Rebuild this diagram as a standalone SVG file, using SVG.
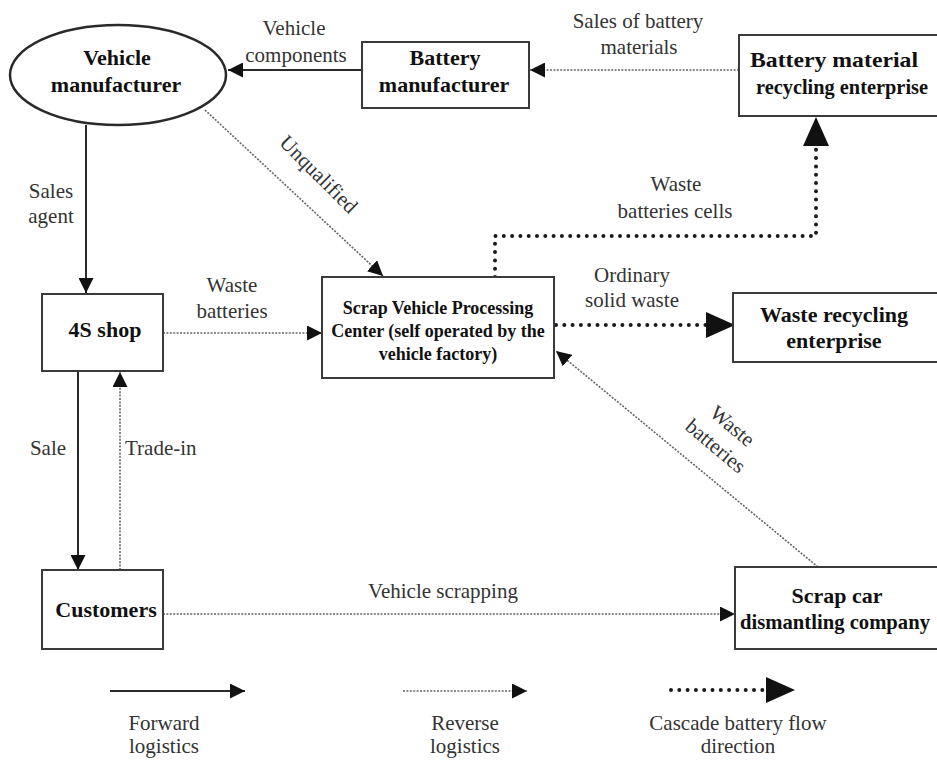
<svg xmlns="http://www.w3.org/2000/svg" width="937" height="762" viewBox="0 0 937 762">
  <style>
    .box { fill: #fff; stroke: #3a3a3a; stroke-width: 2; }
    .node { font-family: "Liberation Serif", "Times New Roman", serif; font-weight: bold; font-size: 22px; fill: #111; }
    .node-sm { font-family: "Liberation Serif", "Times New Roman", serif; font-weight: bold; font-size: 18px; fill: #111; }
    .lbl { font-family: "Liberation Serif", "Times New Roman", serif; font-size: 21px; fill: #333; }
    .fwd { fill: none; stroke: #2a2a2a; stroke-width: 2; }
    .rev { fill: none; stroke: #666; stroke-width: 1.6; stroke-dasharray: 2 1.4; }
    .cas { fill: none; stroke: #1a1a1a; stroke-width: 4; stroke-dasharray: 0 8.3; stroke-linecap: round; }
  </style>
  <defs>
    <marker id="tri" markerUnits="userSpaceOnUse" markerWidth="16" markerHeight="15" refX="15" refY="7.5" orient="auto">
      <path d="M0,0 L15,7.5 L0,15 z" fill="#111"/>
    </marker>
    <marker id="triBig" markerUnits="userSpaceOnUse" markerWidth="30" markerHeight="26" refX="29" refY="13" orient="auto">
      <path d="M0,0 L29,13 L0,26 z" fill="#111"/>
    </marker>
  </defs>

  <rect width="937" height="762" fill="#fff"/>

  <!-- connectors -->
  <g id="connectors">
    <line class="fwd" x1="362" y1="70" x2="228" y2="70" marker-end="url(#tri)"/>
    <line class="rev" x1="739" y1="70" x2="530" y2="70" marker-end="url(#tri)"/>
    <line class="fwd" x1="86" y1="125" x2="86" y2="293" marker-end="url(#tri)"/>
    <line class="rev" x1="205" y1="110" x2="383" y2="276" marker-end="url(#tri)"/>
    <line class="rev" x1="163" y1="333" x2="322" y2="333" marker-end="url(#tri)"/>
    <line class="fwd" x1="78" y1="371" x2="78" y2="570" marker-end="url(#tri)"/>
    <line class="rev" x1="120" y1="570" x2="120" y2="372" marker-end="url(#tri)"/>
    <line class="rev" x1="163" y1="614" x2="735" y2="614" marker-end="url(#tri)"/>
    <line class="rev" x1="818" y1="567" x2="556" y2="351" marker-end="url(#tri)"/>
    <path class="cas" d="M495,277 L495,236 L816,236 L816,140"/>
    <path d="M816,140 L816,117" fill="none" stroke="none" marker-end="url(#triBig)"/>
    <line class="cas" x1="556" y1="325" x2="712" y2="325"/>
    <path d="M712,325 L735,325" fill="none" stroke="none" marker-end="url(#triBig)"/>
  </g>

  <!-- nodes -->
  <g id="vehicle-manufacturer">
    <ellipse cx="118" cy="75" rx="108" ry="50" fill="#fff" stroke="#2a2a2a" stroke-width="2.5"/>
    <text class="node" x="117" y="65" text-anchor="middle">Vehicle</text>
    <text class="node" x="116" y="92" text-anchor="middle">manufacturer</text>
  </g>

  <g id="battery-manufacturer">
    <rect class="box" x="362" y="42" width="167" height="66"/>
    <text class="node" x="445" y="65" text-anchor="middle">Battery</text>
    <text class="node" x="444" y="92" text-anchor="middle">manufacturer</text>
  </g>

  <g id="battery-material-recycling">
    <rect class="box" x="739" y="35" width="210" height="81"/>
    <text class="node" x="750" y="67" textLength="168" lengthAdjust="spacingAndGlyphs">Battery material</text>
    <text class="node" x="756" y="94" style="font-size:21px" textLength="172" lengthAdjust="spacingAndGlyphs">recycling enterprise</text>
  </g>

  <g id="shop-4s">
    <rect class="box" x="42" y="294" width="121" height="77"/>
    <text class="node" x="105" y="337" text-anchor="middle">4S shop</text>
  </g>

  <g id="scrap-vehicle-processing">
    <rect class="box" x="322" y="277" width="232" height="101"/>
    <text class="node-sm" x="438" y="314" text-anchor="middle">Scrap Vehicle Processing</text>
    <text class="node-sm" x="438" y="337" text-anchor="middle">Center (self operated by the</text>
    <text class="node-sm" x="438" y="360" text-anchor="middle">vehicle factory)</text>
  </g>

  <g id="waste-recycling">
    <rect class="box" x="733" y="293" width="215" height="69"/>
    <text class="node" x="834" y="322" text-anchor="middle">Waste recycling</text>
    <text class="node" x="834" y="348" text-anchor="middle">enterprise</text>
  </g>

  <g id="customers">
    <rect class="box" x="42" y="570" width="121" height="79"/>
    <text class="node" x="106" y="617" text-anchor="middle">Customers</text>
  </g>

  <g id="scrap-car-dismantling">
    <rect class="box" x="735" y="567" width="212" height="82"/>
    <text class="node" x="837" y="603" text-anchor="middle">Scrap car</text>
    <text class="node" x="740" y="629" style="font-size:21px" textLength="190" lengthAdjust="spacingAndGlyphs">dismantling company</text>
  </g>

  <!-- connector labels -->
  <g id="labels">
    <text class="lbl" x="294" y="35" text-anchor="middle">Vehicle</text>
    <text class="lbl" x="296" y="62" text-anchor="middle">components</text>
    <text class="lbl" x="638" y="28" text-anchor="middle">Sales of battery</text>
    <text class="lbl" x="639" y="54" text-anchor="middle">materials</text>
    <text class="lbl" x="51" y="198" text-anchor="middle">Sales</text>
    <text class="lbl" x="51" y="223" text-anchor="middle">agent</text>
    <text class="lbl" transform="translate(318,175) rotate(45)" x="0" y="6" text-anchor="middle">Unqualified</text>
    <text class="lbl" x="676" y="191" text-anchor="middle">Waste</text>
    <text class="lbl" x="675" y="218" text-anchor="middle">batteries cells</text>
    <text class="lbl" x="232" y="292" text-anchor="middle">Waste</text>
    <text class="lbl" x="232" y="318" text-anchor="middle">batteries</text>
    <text class="lbl" x="632" y="282" text-anchor="middle">Ordinary</text>
    <text class="lbl" x="632" y="307" text-anchor="middle">solid waste</text>
    <g transform="translate(724,436) rotate(40)">
      <text class="lbl" x="0" y="-6" text-anchor="middle">Waste</text>
      <text class="lbl" x="0" y="20" text-anchor="middle">batteries</text>
    </g>
    <text class="lbl" x="48" y="455" text-anchor="middle">Sale</text>
    <text class="lbl" x="125" y="455">Trade-in</text>
    <text class="lbl" x="443" y="598" text-anchor="middle">Vehicle scrapping</text>
  </g>

  <!-- legend -->
  <g id="legend">
    <line class="fwd" x1="110" y1="691" x2="245" y2="691" marker-end="url(#tri)"/>
    <line class="rev" x1="403" y1="691" x2="527" y2="691" marker-end="url(#tri)"/>
    <line class="cas" x1="671" y1="690" x2="770" y2="690"/>
    <path d="M768,690 L795,690" fill="none" stroke="none" marker-end="url(#triBig)"/>
    <text class="lbl" x="164" y="730" text-anchor="middle">Forward</text>
    <text class="lbl" x="164" y="753" text-anchor="middle">logistics</text>
    <text class="lbl" x="465" y="730" text-anchor="middle">Reverse</text>
    <text class="lbl" x="465" y="753" text-anchor="middle">logistics</text>
    <text class="lbl" x="738" y="730" text-anchor="middle">Cascade battery flow</text>
    <text class="lbl" x="738" y="753" text-anchor="middle">direction</text>
  </g>
</svg>
